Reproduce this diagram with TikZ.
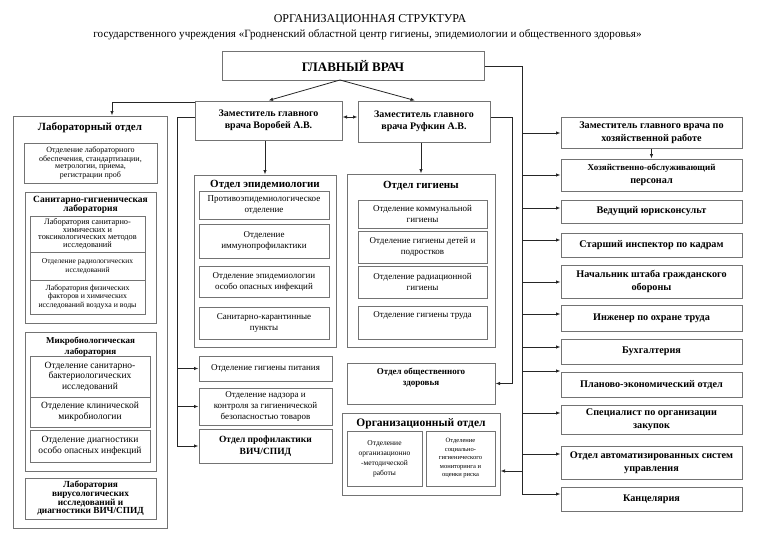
\documentclass[tikz,border=0pt]{standalone}
\usepackage{fontspec}
\setmainfont{Liberation Serif}
\usetikzlibrary{arrows.meta}
\newcommand{\fs}[2]{\fontsize{#1}{#2}\selectfont}
\tikzset{
  box/.style={draw=black!55, line width=1pt, align=center, inner sep=1pt},
  wire/.style={black!85, line width=0.8pt},
  arr/.style={wire, -{Latex[length=4.5pt,width=3.5pt]}},
  head/.style={align=center, inner sep=0pt, font=\fs{11}{12}\bfseries},
  sub/.style={box, font=\fs{9}{11}},
  rbox/.style={box, minimum width=181, font=\fs{10.2}{12.5}\bfseries},
}

\begin{document}
\begin{tikzpicture}[x=1pt,y=-1pt]
\useasboundingbox (0,0) rectangle (768,543);
\node[font=\fs{12}{13}] (title) at (370,20) {ОРГАНИЗАЦИОННАЯ СТРУКТУРА};
\node[font=\fs{11.1}{13}] (subtitle) at (367.5,35) {государственного учреждения «Гродненский областной центр гигиены, эпидемиологии и общественного здоровья»};
\node[box, minimum width=262, minimum height=28, font=\fs{13}{14}\bfseries] (gv) at (353,66) {ГЛАВНЫЙ ВРАЧ};
\node[box, minimum width=147, minimum height=39, font=\fs{10}{12}\bfseries] (vor) at (268.5,120.5) {Заместитель главного\\врача Воробей А.В.};
\node[box, minimum width=132, minimum height=41, font=\fs{10}{12}\bfseries] (ruf) at (424,121.5) {Заместитель главного\\врача Руфкин А.В.};
\node[box, minimum width=154, minimum height=412] (lab) at (90,322) {};
\node[head] (labhead) at (90,128) {Лабораторный отдел};
\node[box, minimum width=133, minimum height=40, font=\fs{8}{7.2}] (labobesp) at (90.5,163) {Отделение лабораторного\\обеспечения, стандартизации,\\метрологии, приема,\\регистрации проб};
\node[box, minimum width=131, minimum height=131] (sangig) at (90.5,257.5) {};
\node[head, font=\fs{9.5}{9.5}\bfseries] (sghead) at (90.5,205) {Санитарно-гигиеническая\\лаборатория};
\node[box, minimum width=115, minimum height=36, font=\fs{8.3}{7.5}] (sgchem) at (87.5,234) {Лаборатория санитарно-\\химических и\\токсикологических методов\\исследований};
\node[box, minimum width=115, minimum height=28, font=\fs{7.5}{9}] (sgrad) at (87.5,266) {Отделение радиологических\\исследований};
\node[box, minimum width=115, minimum height=34, font=\fs{7.8}{8.5}] (sgphys) at (87.5,297) {Лаборатория физических\\факторов и химических\\исследований воздуха и воды};
\node[box, minimum width=131, minimum height=139] (mikro) at (90.5,401.5) {};
\node[head, font=\fs{9}{10.5}\bfseries] (mkhead) at (90.5,346.5) {Микробиологическая\\лаборатория};
\node[sub, minimum width=120, minimum height=41, font=\fs{9.5}{10.5}] (mksan) at (90,376.5) {Отделение санитарно-\\бактериологических\\исследований};
\node[sub, minimum width=120, minimum height=30, font=\fs{9.5}{10.5}] (mkclin) at (90,412) {Отделение клинической\\микробиологии};
\node[sub, minimum width=120, minimum height=32, font=\fs{9.5}{10.5}] (mkdiag) at (90,446) {Отделение диагностики\\особо опасных инфекций};
\node[box, minimum width=131, minimum height=41, font=\fs{9.3}{8.7}\bfseries] (viro) at (90.5,498.5) {Лаборатория\\вирусологических\\исследований и\\диагностики ВИЧ/СПИД};
\node[box, minimum width=142, minimum height=172] (epid) at (265,261) {};
\node[head] (ephead) at (265,185) {Отдел эпидемиологии};
\node[sub, minimum width=130, minimum height=28] (ep1) at (264,205) {Противоэпидемиологическое\\отделение};
\node[sub, minimum width=130, minimum height=34] (ep2) at (264,241) {Отделение\\иммунопрофилактики};
\node[sub, minimum width=130, minimum height=31] (ep3) at (264,281.5) {Отделение эпидемиологии\\особо опасных инфекций};
\node[sub, minimum width=130, minimum height=32] (ep4) at (264,323) {Санитарно-карантинные\\пункты};
\node[box, minimum width=148, minimum height=173] (hyg) at (421,260.5) {};
\node[head] (hghead) at (421,186) {Отдел гигиены};
\node[sub, minimum width=129, minimum height=28] (hg1) at (422.5,214) {Отделение коммунальной\\гигиены};
\node[sub, minimum width=129, minimum height=32] (hg2) at (422.5,247) {Отделение гигиены детей и\\подростков};
\node[sub, minimum width=129, minimum height=32] (hg3) at (422.5,282) {Отделение радиационной\\гигиены};
\node[sub, minimum width=129, minimum height=33] (hg4) at (422.5,322.5) {};
\node[font=\fs{9}{11}, anchor=north, inner sep=0pt] (hg4text) at ([yshift=-6pt]hg4.north) {Отделение гигиены труда};
\node[sub, minimum width=133, minimum height=25] (pit) at (265.5,368.5) {Отделение гигиены питания};
\node[sub, minimum width=133, minimum height=37] (nadzor) at (265.5,406.5) {Отделение надзора и\\контроля за гигиенической\\безопасностью товаров};
\node[box, minimum width=133, minimum height=34, font=\fs{9.5}{11.5}\bfseries] (vich) at (265.5,446) {Отдел профилактики\\ВИЧ/СПИД};
\node[box, minimum width=148, minimum height=41] (obsh) at (421,383.5) {};
\node[align=center, anchor=north, inner sep=0pt, font=\fs{9}{11}\bfseries] (obshtext) at ([yshift=-5pt]obsh.north) {Отдел общественного\\здоровья};
\node[box, minimum width=158, minimum height=82] (org) at (421,454) {};
\node[head, font=\fs{11.5}{12}\bfseries] (orghead) at (421,424) {Организационный отдел};
\node[box, minimum width=75, minimum height=55, font=\fs{7.5}{10}] (orgmet) at (384.5,458.5) {Отделение\\организационно\\-методической\\работы};
\node[box, minimum width=69, minimum height=55, font=\fs{6.5}{8.5}] (orgmon) at (460.5,458.5) {Отделение\\социально-\\гигиенического\\мониторинга и\\оценки риска};
\foreach \n/\y/\h/\t in {
  zamhoz/132.5/31/{Заместитель главного врача по\\хозяйственной работе},
  hozpers/175/32/{\fs{9}{11}Хозяйственно-обслуживающий\\персонал},
  jurist/211.5/23/{Ведущий юрисконсульт},
  kadry/245/24/{Старший инспектор по кадрам},
  go/281.5/33/{Начальник штаба гражданского\\обороны},
  ohrana/318/26/{Инженер по охране труда},
  buh/351.5/25/{Бухгалтерия},
  plan/384.5/25/{Планово-экономический отдел},
  zakup/419.5/29/{Специалист по организации\\закупок},
  asu/462.5/33/{Отдел автоматизированных систем\\управления},
  kanc/499/24/{Канцелярия}}
  \node[rbox, minimum height=\h] (\n) at (651.5,\y) {\t};
\coordinate (gvs) at (340,80);
\draw[arr] (gvs) -- (vor.north);
\draw[arr] (gvs) -- ([xshift=-9pt]ruf.north);
\draw[wire, {Latex[length=4.5pt,width=3.5pt]}-{Latex[length=4.5pt,width=3.5pt]}] (vor.east |- 0,117) -- (ruf.west |- 0,117);
\draw[arr] (vor.west |- 0,102) -| ([xshift=22pt]lab.north);
\draw[arr] (epid.north |- vor.south) -- (epid.north);
\draw[arr] (hyg.north |- ruf.south) -- (hyg.north);
\coordinate (ltrunk) at (177,117);
\draw[wire] (vor.west |- ltrunk) -- (ltrunk) -- (ltrunk |- vich.west);
\foreach \n in {pit,nadzor,vich} \draw[arr] (ltrunk |- \n.west) -- (\n.west);
\coordinate (rline) at (512,117);
\draw[arr] (ruf.east |- rline) -- (rline) |- (obsh.east);
\coordinate (trunk) at (522,66);
\draw[wire] (gv.east) -- (trunk) -- (trunk |- 0,494);
\foreach \n/\y in {zamhoz/133, hozpers/175, jurist/208, kadry/240, go/282, ohrana/314, buh/347, plan/371, zakup/413, asu/454, kanc/494}
  \draw[arr] (trunk |- 0,\y) -- (\n.west |- 0,\y);
\draw[arr] (trunk |- 0,471) -- (org.east |- 0,471);
\draw[arr] (zamhoz.south) -- (hozpers.north);
\end{tikzpicture}
\end{document}
